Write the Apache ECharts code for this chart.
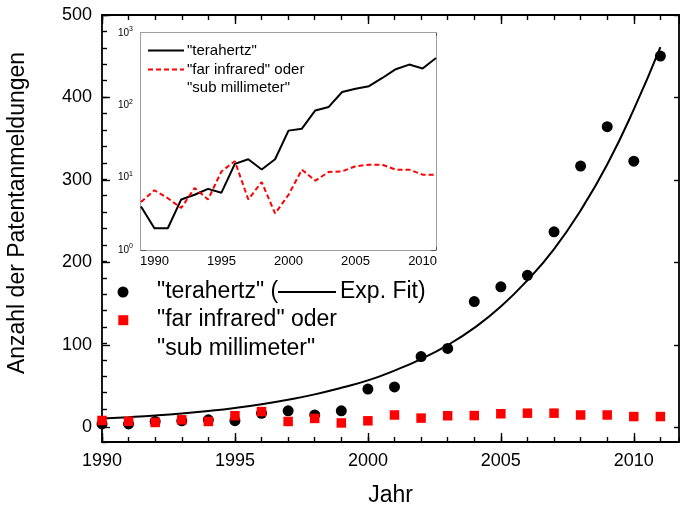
<!DOCTYPE html>
<html><head><meta charset="utf-8">
<script src="https://cdn.jsdelivr.net/npm/echarts@6/dist/echarts.min.js"></script>
<style>html,body{margin:0;padding:0;background:#fff}#c{width:680px;height:512px}</style>
</head><body><div id="c"></div>
<script>
// ---- data ----
const years = [1990,1991,1992,1993,1994,1995,1996,1997,1998,1999,2000,2001,2002,2003,2004,2005,2006,2007,2008,2009,2010,2011];
const terahertz = [2,2,5,5.8,7,6,15,18,13,18,44.5,47,84,94,151,169,183,236,316,364,322,450];
const farInfrared = [6.2,5.2,3.8,7,5,12,17,5,8.7,3.2,5.8,12.9,9.1,12,12.2,14.4,15.1,15.1,12.9,12.9,11,11];
const expFit = [8.5,10.2,12.2,14.7,17.8,21.5,26,31.5,38,46,55,67,81,98,119,145,177,215,262,318,385,461];

const insetYears = [1989,1990,1991,1992,1993,1994,1995,1996,1997,1998,1999,2000,2001,2002,2003,2004,2005,2006,2007,2008,2009,2010,2011];
const insetTerahertz = [4,2,2,5,5.8,7,6.2,15.5,18,13,18,44.7,47.6,85,95,153,170,184,239,316,366,323,452];
const insetFarInfrared = [4.6,6.7,5.2,3.8,7.2,5,12.2,16.9,5,8.7,3.2,5.8,12.9,9.1,12,12.2,14.4,15.1,15.1,12.9,12.9,11,11];

const xTickLabels = [1990,1995,2000,2005,2010];
const yTickLabels = [0,100,200,300,400,500];
const insetYMinor = [2,3,4,5,6,7,8,9,20,30,40,50,60,70,80,90,200,300,400,500,600,700,800,900];

const FONT = 'Liberation Sans, Arial, sans-serif';
const mainLine = { color: '#000', width: 1.8 };
const insetLine = { color: '#808080', width: 1.5 };
const noLabel = { show: false };

function ax(o) {
  const a = {
    type: o.type || 'value', gridIndex: o.grid, position: o.pos, min: o.min, max: o.max,
    axisLine: { show: !!o.line, onZero: false, lineStyle: o.line || {} },
    axisTick: Object.assign({ show: o.len > 0, inside: true, length: o.len,
      lineStyle: { color: o.tickColor || '#000', width: o.tickWidth || 1.4 } }, o.custom ? { customValues: o.custom } : {}),
    axisLabel: o.label || noLabel,
    splitLine: { show: false }
  };
  if (o.interval) a.interval = o.interval;
  if (o.type === 'log') a.logBase = 10;
  if (o.name) {
    a.name = o.name; a.nameLocation = 'middle'; a.nameGap = o.nameGap;
    a.nameTextStyle = { fontSize: 23, fontFamily: FONT, color: '#000' };
  }
  return a;
}
function hidden(grid, min, max) {
  return { type: 'value', gridIndex: grid, min: min, max: max, show: false };
}

const yearLabel = { show: true, fontSize: 18, fontFamily: FONT, color: '#000', margin: 10,
  showMinLabel: true, showMaxLabel: false, formatter: v => (v % 5 === 0 ? String(v) : '') };
const countLabel = { show: true, fontSize: 18, fontFamily: FONT, color: '#000', margin: 10,
  showMinLabel: true, showMaxLabel: true, formatter: v => String(v) };
const insetYearLabel = { show: true, fontSize: 13, fontFamily: FONT, color: '#000', margin: 5,
  showMinLabel: true, showMaxLabel: true, formatter: v => String(v) };

const option = {
  animation: false,
  backgroundColor: '#fff',
  grid: [
    // 0: main plot area (y from -20 to 500)
    { left: 102, right: 1, top: 15, bottom: 68 },
    // 1: inset plot area
    { left: 141, right: 244, top: 33, bottom: 262, show: true, backgroundColor: '#fff', borderWidth: 0, z: 3 },
    // 2: main, major y ticks region (0..500)
    { left: 102, right: 1, top: 15, bottom: 84.5 },
    // 3: inset major x ticks region (1990..2010)
    { left: 154.41, right: 257.4, top: 33, bottom: 262, z: 4 }
  ],
  xAxis: [
    ax({ grid: 0, pos: 'bottom', min: 1990, max: 2011.7, interval: 1, len: 5, line: mainLine, name: 'Jahr', nameGap: 42 }),
    ax({ grid: 0, pos: 'top', min: 1990, max: 2011.7, interval: 1, len: 5, line: mainLine }),
    ax({ grid: 0, pos: 'bottom', min: 1990, max: 2011.7, interval: 5, len: 9, label: yearLabel }),
    ax({ grid: 0, pos: 'top', min: 1990, max: 2011.7, interval: 5, len: 9 }),
    ax({ grid: 1, pos: 'bottom', min: 1989, max: 2011, interval: 1, len: 3, line: insetLine, tickColor: '#555', tickWidth: 1 }),
    ax({ grid: 1, pos: 'top', min: 1989, max: 2011, interval: 1, len: 3, line: insetLine, tickColor: '#555', tickWidth: 1 }),
    ax({ grid: 3, pos: 'bottom', min: 1990, max: 2010, interval: 5, len: 5, tickColor: '#555', tickWidth: 1, label: insetYearLabel }),
    ax({ grid: 3, pos: 'top', min: 1990, max: 2010, interval: 5, len: 5, tickColor: '#555', tickWidth: 1 }),
    hidden(2, 1990, 2011.7)
  ],
  yAxis: [
    ax({ grid: 0, pos: 'left', min: -20, max: 500, interval: 20, len: 5, line: mainLine }),
    ax({ grid: 0, pos: 'right', min: -20, max: 500, interval: 20, len: 0, line: mainLine }),
    ax({ grid: 2, pos: 'left', min: 0, max: 500, interval: 100, len: 8, label: countLabel }),
    ax({ grid: 2, pos: 'right', min: 0, max: 500, interval: 100, len: 5 }),
    ax({ grid: 1, type: 'log', pos: 'left', min: 1, max: 1000, len: 5, line: insetLine, tickColor: '#555', tickWidth: 1,
      label: { show: true, fontSize: 10, fontFamily: FONT, color: '#000', margin: 8,
        formatter: v => '10{s|' + Math.round(Math.log10(v)) + '}',
        rich: { s: { fontSize: 7, fontFamily: FONT, color: '#000', verticalAlign: 'top', padding: [0, 0, 7, 0] } } } }),
    ax({ grid: 1, type: 'log', pos: 'right', min: 1, max: 1000, len: 5, line: insetLine, tickColor: '#555', tickWidth: 1 }),
    ax({ grid: 1, type: 'log', pos: 'left', min: 1, max: 1000, len: 3, tickColor: '#555', tickWidth: 1, custom: insetYMinor }),
    ax({ grid: 1, type: 'log', pos: 'right', min: 1, max: 1000, len: 3, tickColor: '#555', tickWidth: 1, custom: insetYMinor }),
    hidden(3, 0, 1)
  ],
  series: [
    { type: 'line', name: 'Exp. Fit', xAxisIndex: 0, yAxisIndex: 0, smooth: 0.5, symbol: 'none',
      lineStyle: { color: '#000', width: 2 }, data: years.map((y, i) => [y, expFit[i]]), z: 2 },
    { type: 'scatter', name: 'terahertz', xAxisIndex: 0, yAxisIndex: 0, symbol: 'circle', symbolSize: 11,
      itemStyle: { color: '#000', opacity: 1 }, data: years.map((y, i) => [y, terahertz[i]]), z: 3 },
    { type: 'scatter', name: 'far infrared', xAxisIndex: 0, yAxisIndex: 0, symbol: 'rect', symbolSize: 9.5,
      itemStyle: { color: '#ff0000', opacity: 1 }, data: years.map((y, i) => [y, farInfrared[i]]), z: 4 },
    { type: 'line', name: 'inset terahertz', xAxisIndex: 4, yAxisIndex: 4, symbol: 'none',
      lineStyle: { color: '#000', width: 2 }, data: insetYears.map((y, i) => [y, insetTerahertz[i]]), z: 6 },
    { type: 'line', name: 'inset far infrared', xAxisIndex: 4, yAxisIndex: 4, symbol: 'none',
      lineStyle: { color: '#ff0000', width: 2, type: [5, 3] }, data: insetYears.map((y, i) => [y, insetFarInfrared[i]]), z: 6 }
  ],
  graphic: [
    { type: 'text', x: 18, y: 213, rotation: Math.PI / 2,
      style: { text: 'Anzahl der Patentanmeldungen', font: '23px ' + FONT, fill: '#000', align: 'center', verticalAlign: 'middle' } },
    // main legend
    { type: 'circle', shape: { cx: 123, cy: 292, r: 5.5 }, style: { fill: '#000' } },
    { type: 'text', x: 157, y: 292, style: { text: '"terahertz" (', font: '23px ' + FONT, fill: '#000', align: 'left', verticalAlign: 'middle' } },
    { type: 'line', shape: { x1: 278, y1: 292, x2: 336, y2: 292 }, style: { stroke: '#000', lineWidth: 2 } },
    { type: 'text', x: 340, y: 292, style: { text: 'Exp. Fit)', font: '23px ' + FONT, fill: '#000', align: 'left', verticalAlign: 'middle' } },
    { type: 'rect', shape: { x: 118.3, y: 315.2, width: 10, height: 10 }, style: { fill: '#ff0000' } },
    { type: 'text', x: 157, y: 320, style: { text: '"far infrared" oder', font: '23px ' + FONT, fill: '#000', align: 'left', verticalAlign: 'middle' } },
    { type: 'text', x: 157, y: 349, style: { text: '"sub millimeter"', font: '23px ' + FONT, fill: '#000', align: 'left', verticalAlign: 'middle' } },
    // inset legend
    { type: 'line', z: 10, shape: { x1: 148, y1: 50.5, x2: 184, y2: 50.5 }, style: { stroke: '#000', lineWidth: 2 } },
    { type: 'text', z: 10, x: 187, y: 50.5, style: { text: '"terahertz"', font: '15px ' + FONT, fill: '#000', align: 'left', verticalAlign: 'middle' } },
    { type: 'line', z: 10, shape: { x1: 148, y1: 69.5, x2: 184, y2: 69.5 }, style: { stroke: '#ff0000', lineWidth: 2, lineDash: [5, 3] } },
    { type: 'text', z: 10, x: 187, y: 69.5, style: { text: '"far infrared" oder', font: '15px ' + FONT, fill: '#000', align: 'left', verticalAlign: 'middle' } },
    { type: 'text', z: 10, x: 187, y: 88.3, style: { text: '"sub millimeter"', font: '15px ' + FONT, fill: '#000', align: 'left', verticalAlign: 'middle' } }
  ]
};
const chart = echarts.init(document.getElementById('c'), null, { renderer: 'canvas' });
chart.setOption(option);
</script></body></html>
